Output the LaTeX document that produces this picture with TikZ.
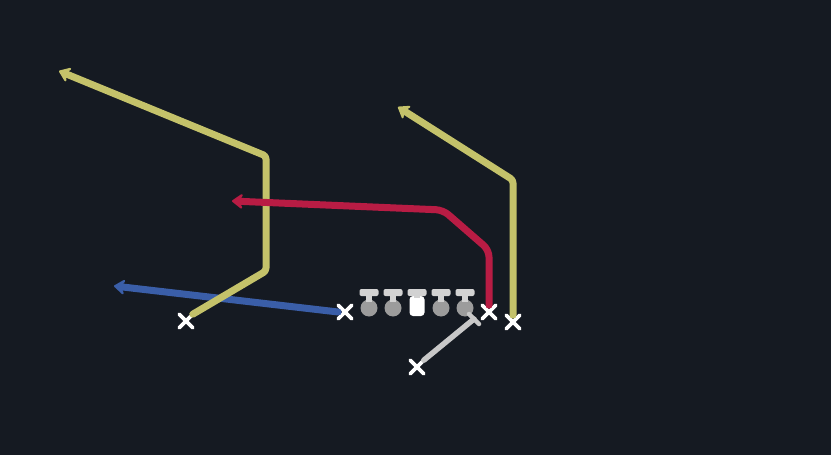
\documentclass[tikz,border=0pt]{standalone}
\usetikzlibrary{arrows.meta,shapes.misc,calc}
\definecolor{bg}{HTML}{151A22}
\definecolor{rtyellow}{HTML}{C4C26A}
\definecolor{rtred}{HTML}{B81C44}
\definecolor{rtblue}{HTML}{3A5EA8}
\definecolor{rtgray}{HTML}{C8C8C8}
\definecolor{olT}{HTML}{D2D2D2}
\definecolor{olC}{HTML}{9C9C9C}
\tikzset{
  route/.style={line width=7pt, line join=round, line cap=round, rounded corners=3pt,
    -{Stealth[length=13pt,width=19pt,inset=5pt,round]}},
  player/.style={cross out, draw=white, line width=3.6pt, minimum size=10pt, inner sep=0pt, line cap=round},
  lineman/.pic={
    \fill[olC] (0,18) circle (8.5pt);
    \fill[olT] (-3.2,1) rectangle (3.2,12);
    \fill[olT, rounded corners=2pt] (-9.5,-1) rectangle (9.5,6);
  },
  centerman/.pic={
    \fill[white, rounded corners=3.5pt] (-7.5,6) rectangle (7.5,26);
    \fill[olT] (-3.2,1) rectangle (3.2,8);
    \fill[olT, rounded corners=2pt] (-9.5,-1) rectangle (9.5,6);
  }
}
\begin{document}
\begin{tikzpicture}[x=1pt,y=-1pt]
\fill[bg] (0,0) rectangle (831,455);
\useasboundingbox (0,0) rectangle (831,455);
% waypoints
\coordinate (l1) at (266,271);
\coordinate (l2) at (266,156);
\coordinate (l3) at (59,71);
\coordinate (r1) at (513,180);
\coordinate (r2) at (398,107);
\coordinate (t1) at (489,250);
\coordinate (t2) at (443,210);
\coordinate (t3) at (232,201);
\coordinate (b1) at (114,286);
\coordinate (g1) at (474,319);
\coordinate (g2) at (469,314);
\coordinate (g3) at (479,324);
% line
\pic at (369,290) {lineman};
\pic at (393,290) {lineman};
\pic at (417,290) {centerman};
\pic at (441,290) {lineman};
\pic at (465,290) {lineman};
% players
\node[player] (wl) at (186,321) {};
\node[player] (sl) at (345,312) {};
\node[player] (te) at (489,312) {};
\node[player] (wr) at (513,322) {};
\node[player] (qb) at (417,367) {};
% blue route
\draw[route, rtblue] (sl.west) -- (b1);
% yellow routes
\draw[route, rtyellow] (wl.north east) -- (l1) -- (l2) -- (l3);
\draw[route, rtyellow] (wr.north) -- (r1) -- (r2);
% red route
\draw[route, rtred, rounded corners=7pt] (te.north) -- (t1) -- (t2) -- (t3);
% gray block
\draw[rtgray, line width=5.5pt, line cap=round] (qb.north east) -- (g1);
\draw[rtgray, line width=4.5pt, line cap=round] (g2) -- (g3);
\end{tikzpicture}
\end{document}
